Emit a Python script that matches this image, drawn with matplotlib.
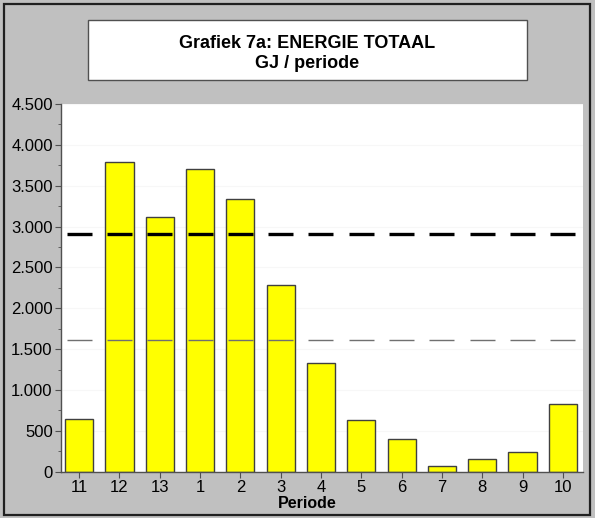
import numpy as np
import matplotlib
matplotlib.use('Agg')
from matplotlib import pyplot as plt
from matplotlib.patches import Rectangle
from matplotlib.ticker import FuncFormatter, MultipleLocator

# data
periodes   = ['11', '12', '13', '1', '2', '3', '4', '5', '6', '7', '8', '9', '10']
energie    = [640, 3785, 3120, 3700, 3340, 2290, 1330, 638, 397, 70, 152, 242, 834]
gemiddeld  = 2910   # thick dashed line
laag       = 1615   # thin dashed line

plt.rcParams['font.family'] = ['Liberation Sans', 'DejaVu Sans']

W, H = 595, 518
fig = plt.figure(figsize=(W/100, H/100), dpi=100)
fig.patch.set_facecolor('#c0c0c0')

# outer border
fig.patches.append(Rectangle((4/W, 3/H), 586/W, 511/H, transform=fig.transFigure,
                             fill=False, edgecolor='#202020', lw=1.6))
# title box
fig.patches.append(Rectangle((88/W, 1-80/H), 439/W, 60/H, transform=fig.transFigure,
                             facecolor='white', edgecolor='#505050', lw=1.0))
fig.text(307/W, 1-43/H, 'Grafiek 7a: ENERGIE TOTAAL', ha='center', va='center',
         fontsize=13, fontweight='bold')
fig.text(307/W, 1-63/H, 'GJ / periode', ha='center', va='center',
         fontsize=13, fontweight='bold')

ax = fig.add_axes([61/W, 1-471.7/H, (583-61)/W, (471.7-104)/H])
ax.set_facecolor('white')

x = np.arange(len(periodes))
ax.bar(x, energie, width=0.7, color='#ffff00', edgecolor='#404040', lw=1.0, zorder=2)

# dashed reference lines, one dash per category
ax.hlines([gemiddeld]*len(x), x-0.31, x+0.31, color='black', lw=2.4, zorder=3)
ax.hlines([laag]*len(x), x-0.31, x+0.31, color='#707070', lw=1.0, zorder=3)

ax.set_xlim(-0.45, 12.5)
ax.set_ylim(0, 4500)
ax.set_xticks(x)
ax.set_xticklabels(periodes)
ax.yaxis.set_major_locator(MultipleLocator(500))
ax.yaxis.set_minor_locator(MultipleLocator(250))
ax.yaxis.set_major_formatter(FuncFormatter(lambda v, p: f'{int(v):,}'.replace(',', '.')))
ax.grid(axis='y', color='#f7f7f7', lw=0.8, zorder=0)

for s in ['top', 'right']:
    ax.spines[s].set_visible(False)
for s in ['left', 'bottom']:
    ax.spines[s].set_color('#505050')
    ax.spines[s].set_linewidth(1.0)

ax.tick_params(axis='both', which='major', labelsize=12, length=4, color='#505050', pad=2)
ax.tick_params(axis='y', which='minor', length=2, color='#505050')
ax.set_xlabel('Periode', fontsize=11.5, fontweight='bold')
ax.xaxis.set_label_coords((307-61)/522, -24.5/367.7)

fig.savefig('out.png', dpi=100, facecolor=fig.get_facecolor())
